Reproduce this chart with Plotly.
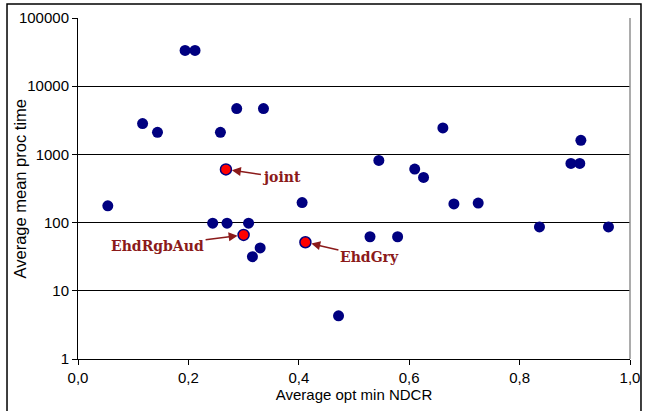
import math
import plotly.graph_objects as go

# Data
blue_x = [0.054, 0.117, 0.144, 0.194, 0.212, 0.258, 0.2875, 0.336, 0.244, 0.270,
          0.309, 0.330, 0.316, 0.406, 0.472, 0.529, 0.579, 0.545, 0.610, 0.626,
          0.661, 0.681, 0.725, 0.836, 0.893, 0.909, 0.911, 0.961]
blue_y = [176, 2830, 2110, 33500, 33500, 2110, 4700, 4700, 98, 98,
          98, 42.5, 31.6, 197, 4.3, 62, 62, 816, 610, 459,
          2440, 188, 193, 86.5, 738, 738, 1607, 86.5]

red_names = ["joint", "EhdRgbAud", "EhdGry"]
red_x = [0.268, 0.300, 0.412]
red_y = [602, 66, 51.5]
label_ax = [56, -86, 64]
label_ay = [8, 11, 15]

x_ticks = [0, 0.2, 0.4, 0.6, 0.8, 1.0]
x_ticktext = ["0,0", "0,2", "0,4", "0,6", "0,8", "1,0"]
y_ticks = [1, 10, 100, 1000, 10000, 100000]
y_ticktext = ["1", "10", "100", "1000", "10000", "100000"]

NAVY = "#000080"
DARKRED = "#8B1A1A"
SANS = "Liberation Sans, Arial"

fig = go.Figure()
fig.add_trace(go.Scatter(x=blue_x, y=blue_y, mode="markers",
                         marker=dict(color=NAVY, size=11, line=dict(width=0)),
                         showlegend=False, hoverinfo="x+y"))
fig.add_trace(go.Scatter(x=red_x, y=red_y, mode="markers",
                         marker=dict(color="#FF0000", size=11, line=dict(color=NAVY, width=1.5)),
                         showlegend=False, hoverinfo="x+y"))

for n, xv, yv, ax, ay in zip(red_names, red_x, red_y, label_ax, label_ay):
    fig.add_annotation(x=xv, y=math.log10(yv), xref="x", yref="y",
                       text="<b>" + n + "</b>",
                       showarrow=True, ax=ax, ay=ay,
                       arrowhead=2, arrowsize=1.2, arrowwidth=1.5, arrowcolor=DARKRED,
                       standoff=6,
                       font=dict(family="DejaVu Serif", size=14, color=DARKRED))

# y-axis title
fig.add_annotation(text="Average mean proc time", xref="paper", yref="paper",
                   x=-0.1051, y=0.5, textangle=-90, showarrow=False,
                   xanchor="center", yanchor="middle",
                   font=dict(family=SANS, size=16.5, color="black"))

fig.update_xaxes(range=[0, 1], tickvals=x_ticks, ticktext=x_ticktext,
                 showgrid=False, zeroline=False, automargin=False,
                 showline=True, linecolor="black", linewidth=1,
                 ticks="outside", ticklen=5, tickcolor="black",
                 tickfont=dict(family=SANS, size=15, color="black"),
                 title=dict(text="Average opt min NDCR", standoff=2,
                            font=dict(family=SANS, size=15, color="black")))
fig.update_yaxes(type="log", range=[0, 5], tickvals=y_ticks, ticktext=y_ticktext,
                 showgrid=True, gridcolor="black", gridwidth=1, zeroline=False,
                 automargin=False,
                 showline=True, linecolor="black", linewidth=1,
                 ticks="outside", ticklen=5, tickcolor="black",
                 tickfont=dict(family=SANS, size=15, color="black"))

fig.add_shape(type="line", xref="paper", yref="paper", x0=1, x1=1, y0=0, y1=1,
              line=dict(color="#909090", width=1.5))
fig.add_shape(type="rect", xref="paper", yref="paper",
              x0=-0.1286, x1=1.0199, y0=-0.3, y1=1.0414,
              line=dict(color="black", width=1.5), fillcolor="rgba(0,0,0,0)")

fig.update_layout(width=650, height=411,
                  margin=dict(l=78, r=20, t=18, b=52),
                  paper_bgcolor="white", plot_bgcolor="white")

fig.write_html("out.html", config={"displayModeBar": False},
               post_script="document.body.style.margin='0';")
